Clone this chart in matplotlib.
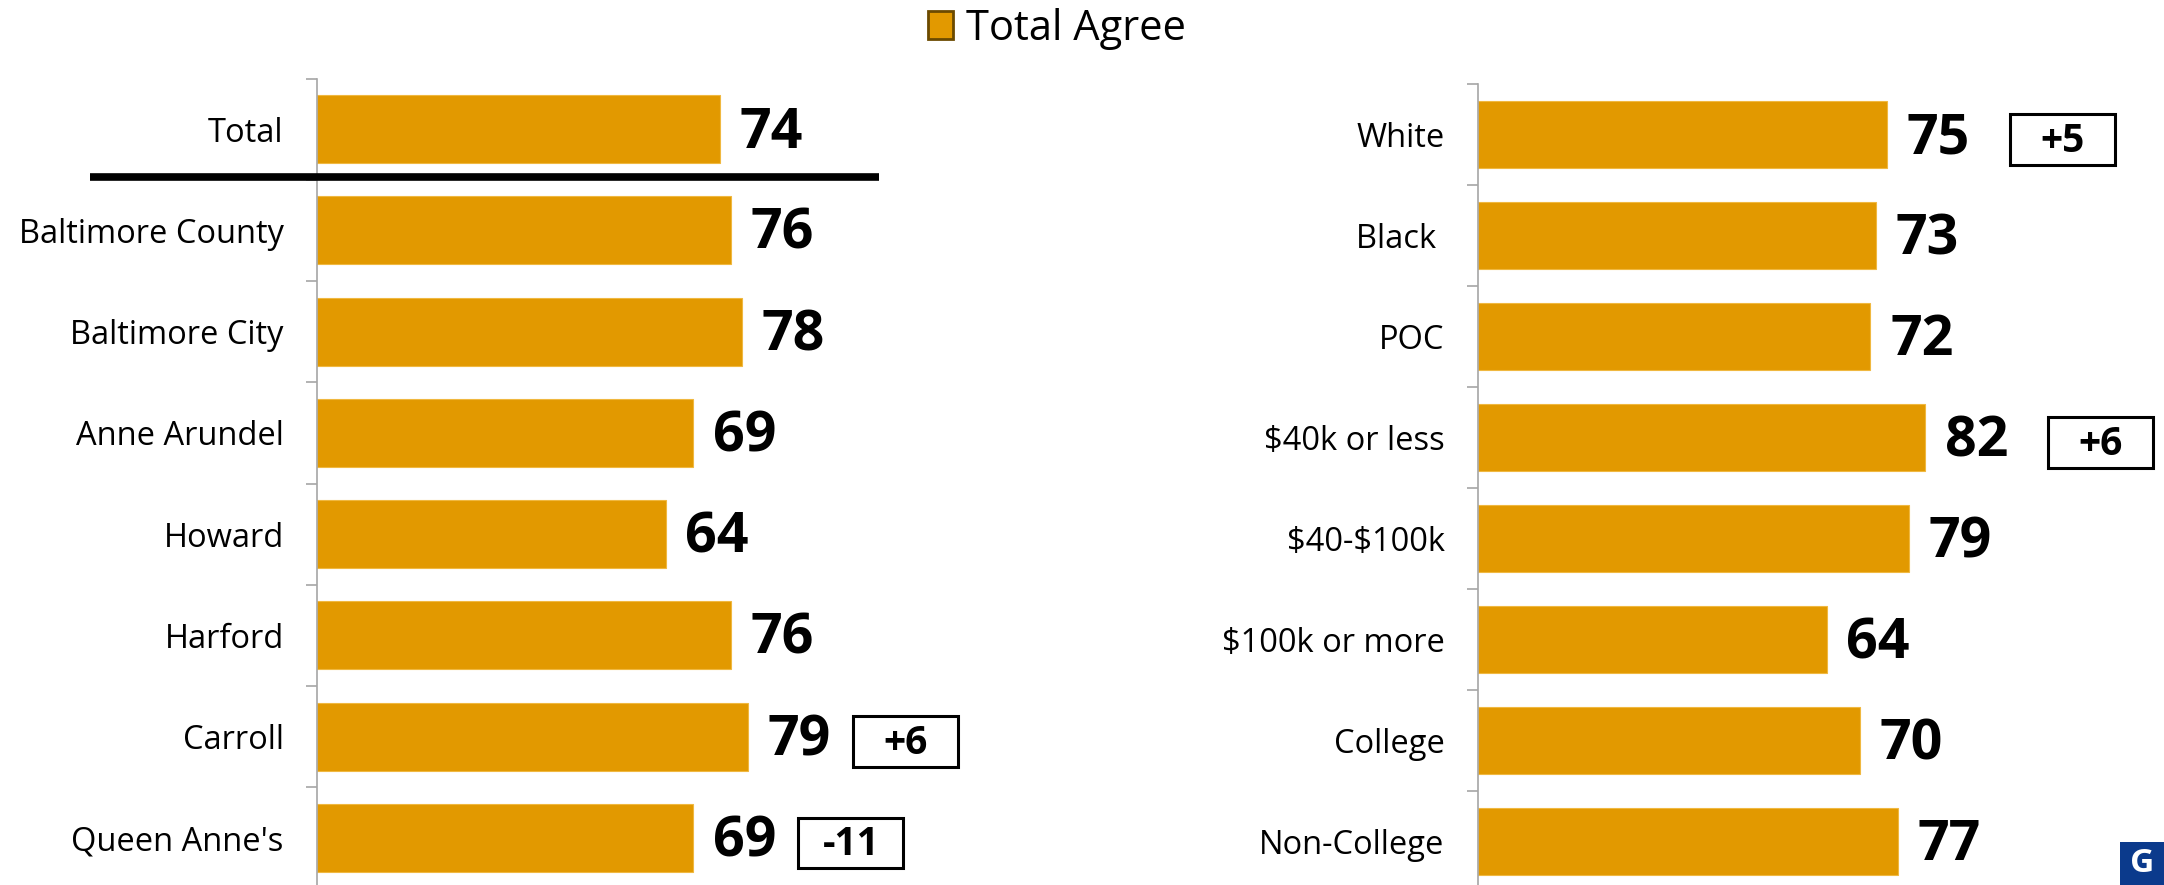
import matplotlib
matplotlib.use("Agg")
import matplotlib.pyplot as plt
import matplotlib.patches as mpatches
from matplotlib.lines import Line2D

# ---------------- data ----------------
left_categories = ["Total", "Baltimore County", "Baltimore City", "Anne Arundel",
                   "Howard", "Harford", "Carroll", "Queen Anne's"]
left_values = [74, 76, 78, 69, 64, 76, 79, 69]
left_changes = ["", "", "", "", "", "", "+6", "-11"]

right_categories = ["White", "Black ", "POC", "$40k or less", "$40-$100k",
                    "$100k or more", "College", "Non-College"]
right_values = [75, 73, 72, 82, 79, 64, 70, 77]
right_changes = ["+5", "", "", "+6", "", "", "", ""]

series_name = "Total Agree"

# ---------------- style ----------------
W, H, DPI = 2164, 885, 100
BAR_COLOR = "#E29900"
FONT = "Open Sans"
plt.rcParams["font.family"] = [FONT, "DejaVu Sans"]

fig = plt.figure(figsize=(W / DPI, H / DPI), dpi=DPI)
fig.patch.set_facecolor("white")


def px_rect(x0, top, x1, bottom):
    return [x0 / W, 1 - bottom / H, (x1 - x0) / W, (bottom - top) / H]


def draw_panel(rect, cats, vals, changes, box_offset):
    ax = fig.add_axes(rect)
    n = len(cats)
    y = list(range(n))
    ax.barh(y, vals, height=0.67, color=BAR_COLOR, edgecolor="#F0B840",
            linewidth=0.8, zorder=2)
    ax.set_xlim(0, 100)
    ax.set_ylim(n - 0.5, -0.5)
    for s in ("top", "right", "bottom"):
        ax.spines[s].set_visible(False)
    ax.spines["left"].set_color("#A6A6A6")
    ax.spines["left"].set_linewidth(1.2)
    ax.set_xticks([])
    # boundary ticks (major, no labels) and category labels (minor, no tick)
    ax.set_yticks([i - 0.5 for i in range(n + 1)])
    ax.set_yticklabels([])
    ax.tick_params(axis="y", which="major", length=8, width=1.2,
                   color="#A6A6A6", direction="out")
    ax.set_yticks(y, minor=True)
    ax.set_yticklabels([c.replace("$", r"\$") for c in cats], minor=True,
                       fontsize=23.5)
    ax.tick_params(axis="y", which="minor", length=0, pad=24)
    for yi, v, ch in zip(y, vals, changes):
        ax.text(v + 3.6, yi + 0.04, str(v), ha="left", va="center",
                fontsize=40, fontweight="bold", color="black", clip_on=False)
        if ch:
            bx = v + box_offset
            box = mpatches.Rectangle((bx, yi + 0.05 - 0.25), 19.3, 0.5,
                                     facecolor="white", edgecolor="black",
                                     linewidth=2.2, clip_on=False, zorder=3)
            ax.add_patch(box)
            ax.text(bx + 19.3 / 2, yi + 0.07, ch, ha="center", va="center",
                    fontsize=28, fontweight="bold", color="black",
                    clip_on=False, zorder=4)
    return ax


axL = draw_panel(px_rect(317, 78.5, 317 + 545, 888.5), left_categories,
                 left_values, left_changes, 19.3)
axR = draw_panel(px_rect(1478, 84, 1478 + 545, 892), right_categories,
                 right_values, right_changes, 22.6)

# separator line below "Total"
axL.add_line(Line2D([-0.4165, 1.031], [0.47, 0.47],
                    transform=axL.get_yaxis_transform(), color="black",
                    linewidth=5.5, solid_capstyle="butt", clip_on=False,
                    zorder=5))

# legend
handle = mpatches.Patch(facecolor=BAR_COLOR, edgecolor="#6B4A00", linewidth=2)
fig.legend(handles=[handle], labels=[series_name], loc="center",
           bbox_to_anchor=(1057 / W, 1 - 29 / H), frameon=False,
           fontsize=30, handlelength=0.6, handleheight=0.65,
           handletextpad=0.3, borderpad=0, borderaxespad=0)

# corner logo
logo = mpatches.Rectangle((2120 / W, 0), 44 / W, 43 / H,
                          transform=fig.transFigure, facecolor="#0B3A8C",
                          edgecolor="none", zorder=10)
fig.patches.append(logo)
fig.text(2142 / W, 21 / H, "G", color="white", fontsize=24,
         fontweight="bold", ha="center", va="center", zorder=11)

fig.savefig("out.png", dpi=DPI, facecolor="white")
